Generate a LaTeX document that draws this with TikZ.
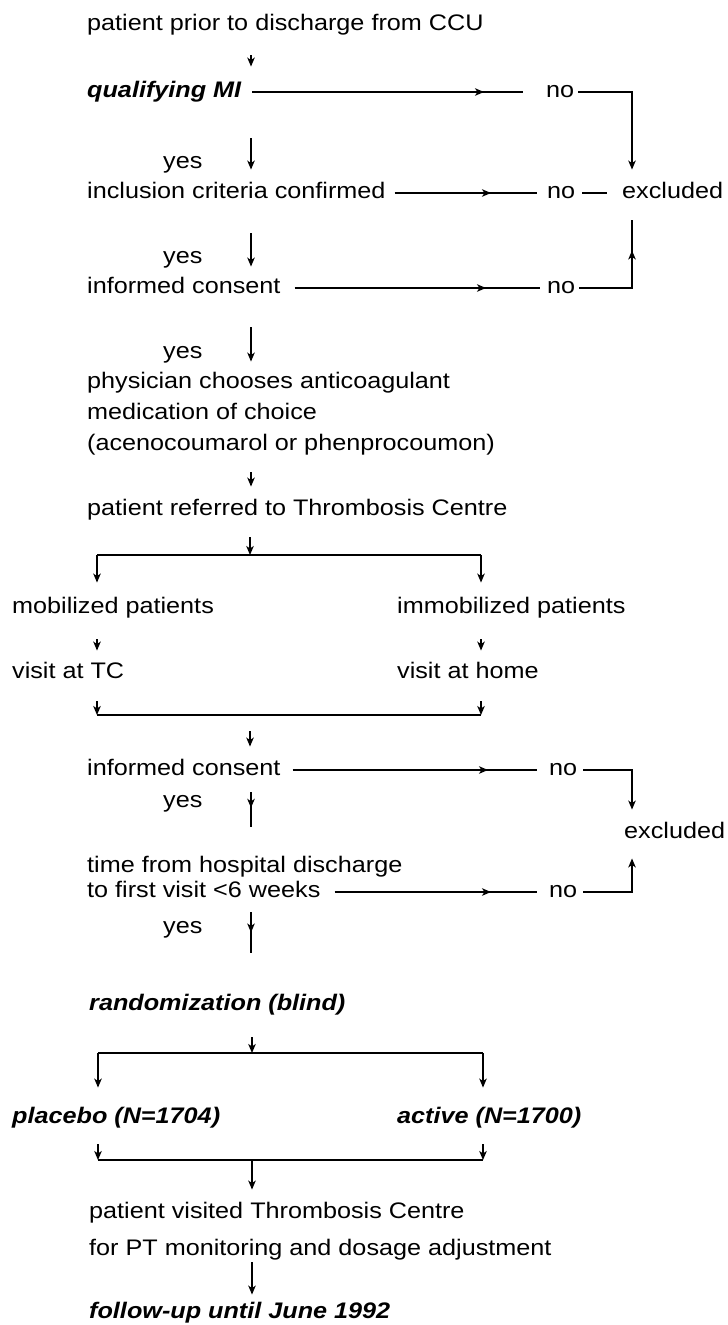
\documentclass[tikz,border=0pt]{standalone}
\usepackage{fontspec}
\setmainfont{Liberation Sans}[FakeStretch=1.12]
\usetikzlibrary{arrows.meta}
\usetikzlibrary{decorations.markings}
\usetikzlibrary{calc}

\tikzset{
  txt/.style={anchor=west, inner sep=0pt, text height=16pt, text depth=4.5pt, font=\fontsize{22.5}{26}\selectfont},
  hilite/.style={txt, font=\fontsize{22.5}{26}\selectfont\bfseries\itshape},
  ln/.style={line width=1.4pt},
  arr/.style={ln, -{Stealth[length=9pt,width=7.5pt,inset=2.5pt]}},
  midarr/.style={ln, postaction={decorate, decoration={markings, mark=at position #1 with {\arrow{Stealth[length=9pt,width=7.5pt,inset=2.5pt]}}}}},
}

\begin{document}
\begin{tikzpicture}[x=1pt,y=1pt,yscale=-1,xscale=1]
\useasboundingbox (0,0) rectangle (728,1325);

%Coordinates
\coordinate (spine) at (251,0);
\coordinate (rail) at (632,0);
\coordinate (fork1) at (250,555);
\coordinate (fork1l) at (97,555);
\coordinate (fork1r) at (481,555);
\coordinate (merge1) at (250,715);
\coordinate (merge1l) at (97,715);
\coordinate (merge1r) at (481,715);
\coordinate (fork2) at (252,1053);
\coordinate (fork2l) at (98,1053);
\coordinate (fork2r) at (483,1053);
\coordinate (merge2) at (252,1160);
\coordinate (merge2l) at (98,1160);
\coordinate (merge2r) at (483,1160);

%Text nodes
\node[txt] (start) at (87,25) {patient prior to discharge from CCU};
\node[hilite] (qmi) at (87,92) {qualifying MI};
\node[txt] (yes1) at (163,163) {yes};
\node[txt] (incl) at (87,193) {inclusion criteria confirmed};
\node[txt] (yes2) at (163,258) {yes};
\node[txt] (cons1) at (87,288) {informed consent};
\node[txt] (yes3) at (163,353) {yes};
\node[txt] (phys1) at (87,383) {physician chooses anticoagulant};
\node[txt] (phys2) at (87,414) {medication of choice};
\node[txt] (phys3) at (87,445) {(acenocoumarol or phenprocoumon)};
\node[txt] (refer) at (87,510) {patient referred to Thrombosis Centre};
\node[txt] (mob) at (12,608) {mobilized patients};
\node[txt] (imm) at (397,608) {immobilized patients};
\node[txt] (tc) at (12,673) {visit at TC};
\node[txt] (home) at (397,673) {visit at home};
\node[txt] (cons2) at (87,770) {informed consent};
\node[txt] (yes4) at (163,802) {yes};
\node[txt] (time1) at (87,867) {time from hospital discharge};
\node[txt] (time2) at (87,892) {to first visit <6 weeks};
\node[txt] (yes5) at (163,928) {yes};
\node[hilite] (rand) at (89,1005) {randomization (blind)};
\node[hilite] (plac) at (12,1118) {placebo (N=1704)};
\node[hilite] (act) at (397,1118) {active (N=1700)};
\node[txt] (visit1) at (89,1213) {patient visited Thrombosis Centre};
\node[txt] (visit2) at (89,1250) {for PT monitoring and dosage adjustment};
\node[hilite] (follow) at (89,1313) {follow-up until June 1992};

%No and excluded
\node[txt] (no1) at (546,92) {no};
\node[txt] (no2) at (547,193) {no};
\node[txt] (no3) at (547,288) {no};
\node[txt] (no4) at (549,770) {no};
\node[txt] (no5) at (549,892) {no};
\node[txt] (excl1) at (622,193) {excluded};
\node[txt] (excl2) at (624,833) {excluded};

%Main line, first part
\draw[arr, shorten <=20pt, shorten >=15pt] (start.south -| spine) -- (qmi.north -| spine);
\draw[arr, shorten <=36pt, shorten >=13pt] (qmi.south -| spine) -- (incl.north -| spine);
\draw[arr, shorten <=30pt, shorten >=11pt] (incl.south -| spine) -- (cons1.north -| spine);
\draw[arr, shorten <=29pt, shorten >=11pt] (cons1.south -| spine) -- (phys1.north -| spine);
\draw[arr, shorten <=17pt, shorten >=13pt] (phys3.south -| spine) -- (refer.north -| spine);
\draw[arr, shorten <=17pt] (refer.south -| fork1) -- (fork1);

%Fork to mobilized / immobilized
\draw[ln] (fork1l) -- (fork1r);
\draw[arr, shorten >=15pt] (fork1l) -- (mob.north -| fork1l);
\draw[arr, shorten >=15pt] (fork1r) -- (imm.north -| fork1r);
\draw[arr, shorten <=21pt, shorten >=12pt] (mob.south -| fork1l) -- (tc.north -| fork1l);
\draw[arr, shorten <=21pt, shorten >=12pt] (imm.south -| fork1r) -- (home.north -| fork1r);
\draw[arr, shorten <=18pt] (tc.south -| merge1l) -- (merge1l);
\draw[arr, shorten <=18pt] (home.south -| merge1r) -- (merge1r);
\draw[ln] (merge1l) -- (merge1r);

%Main line, second part
\draw[arr, shorten <=16pt, shorten >=13pt] (merge1) -- (cons2.north -| merge1);
\draw[midarr=0.45] ($(cons2.south -| spine)+(0,12)$) -- ($(time1.north -| spine)+(0,-30)$);
\draw[midarr=0.5] ($(time2.south -| spine)+(0,10)$) -- ($(rand.north -| spine)+(0,-42)$);
\draw[arr, shorten <=22pt] (rand.south -| fork2) -- (fork2);

%Fork to placebo / active
\draw[ln] (fork2l) -- (fork2r);
\draw[arr, shorten >=20pt] (fork2l) -- (plac.north -| fork2l);
\draw[arr, shorten >=20pt] (fork2r) -- (act.north -| fork2r);
\draw[arr, shorten <=16pt] (plac.south -| merge2l) -- (merge2l);
\draw[arr, shorten <=16pt] (act.south -| merge2r) -- (merge2r);
\draw[ln] (merge2l) -- (merge2r);
\draw[arr, shorten >=13pt] (merge2) -- (visit1.north -| merge2);
\draw[arr, shorten <=2pt, shorten >=8pt] (visit2.south -| merge2) -- (follow.north -| merge2);

%No branches
\draw[midarr=-39pt] ($(qmi.east)+(11,0)$) -- ($(no1.west)+(-23,0)$);
\draw[midarr=-46pt] ($(incl.east)+(9,0)$) -- ($(no2.west)+(-10,0)$);
\draw[midarr=-54pt] ($(cons1.east)+(14,0)$) -- ($(no3.west)+(-7,0)$);
\draw[midarr=-49pt] ($(cons2.east)+(12,0)$) -- ($(no4.west)+(-12,0)$);
\draw[midarr=-46pt] ($(time2.east)+(14,0)$) -- ($(no5.west)+(-12,0)$);

%To excluded
\draw[arr, shorten >=13pt] ($(no1.east)+(4,0)$) -| (excl1.north -| rail);
\draw[ln] ($(no2.east)+(7,0)$) -- ($(excl1.west)+(-15,0)$);
\draw[midarr=-30pt] ($(no3.east)+(4,0)$) -| ($(excl1.south -| rail)+(0,17)$);
\draw[arr, shorten >=13pt] ($(no4.east)+(6,0)$) -| (excl2.north -| rail);
\draw[arr, shorten >=15pt] ($(no5.east)+(6,0)$) -| (excl2.south -| rail);

\end{tikzpicture}
\end{document}
